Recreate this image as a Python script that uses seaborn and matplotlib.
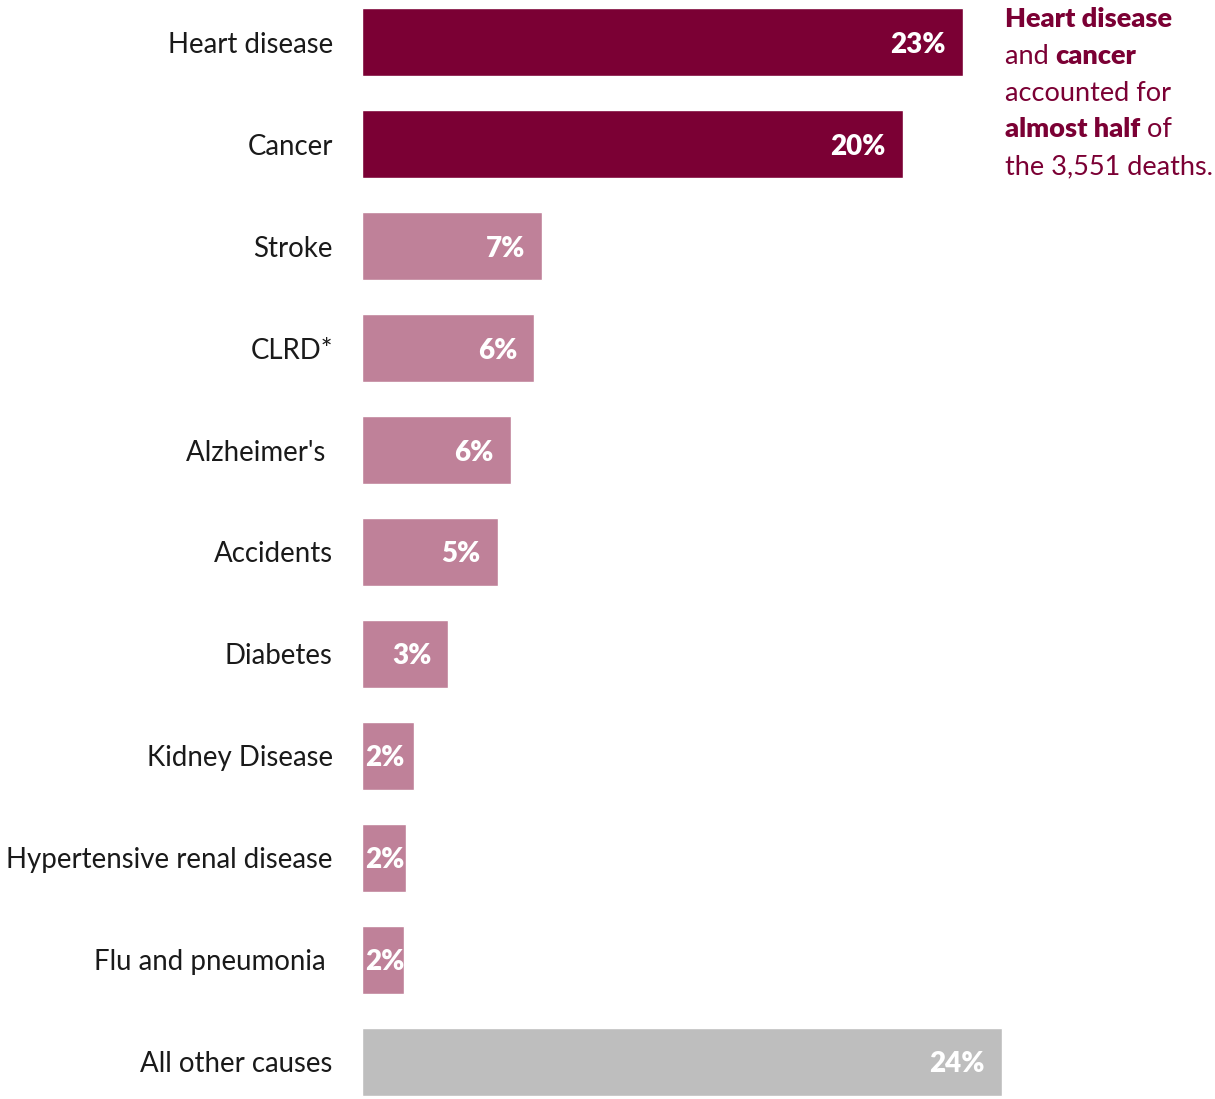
# -*- coding: UTF-8 -*-
# leading causes of death, horizontal bar chart
import matplotlib
matplotlib.use("Agg")
import matplotlib.pyplot as plt
import pandas as pd
import seaborn as sns

# data
causes = ["Heart disease", "Cancer", "Stroke", "CLRD*", "Alzheimer's ",
          "Accidents", "Diabetes", "Kidney Disease",
          "Hypertensive renal disease", "Flu and pneumonia ", "All other causes"]
shares = [23.0, 20.7, 6.9, 6.6, 5.7, 5.2, 3.3, 2.0, 1.7, 1.6, 24.5]
share_labels = ["23%", "20%", "7%", "6%", "6%", "5%", "3%", "2%", "2%", "2%", "24%"]
groups = ["top", "top", "mid", "mid", "mid", "mid", "mid", "mid", "mid", "mid", "other"]

note_lines = [
    [("Heart disease", True)],
    [("and ", False), ("cancer", True)],
    [("accounted for", False)],
    [("almost half", True), (" of", False)],
    [("the 3,551 deaths.", False)],
]

dark = "#7B0034"
pink = "#BF8199"
grey = "#BEBEBE"
group_colors = {"top": dark, "mid": pink, "other": grey}

sns.set_style("white")
plt.rcParams['font.family'] = ['Lato', 'DejaVu Sans']

W, H = 1215, 1099
fig = plt.figure(figsize=(W / 100, H / 100), dpi=100)
ax = fig.add_axes([362 / W, 0, (1041 - 362) / W, 1])

df = pd.DataFrame({"cause": causes, "share": shares, "group": groups})
sns.barplot(data=df, x="share", y="cause", hue="group", palette=group_colors,
            dodge=False, width=0.667, legend=False, ax=ax, saturation=1)

ax.set_xlim(0, 26)
ax.set_ylim(10.363, -0.412)
ax.set_xlabel("")
ax.set_ylabel("")
ax.set_xticks([])
sns.despine(ax=ax, left=True, bottom=True)
ax.tick_params(axis="y", length=0, pad=21, labelsize=19.9, labelcolor="#1a1a1a")

# value labels inside bars
renderer = fig.canvas.get_renderer()
px = 26 / (1041 - 362)  # data units per pixel
bars = sorted([p for p in ax.patches if p.get_width() > 0], key=lambda p: p.get_y())
for bar, lab in zip(bars, share_labels):
    end = bar.get_width()
    yc = bar.get_y() + bar.get_height() / 2
    t = ax.text(end - 17 * px, yc, lab, ha="right", va="center_baseline",
                color="white", fontsize=20, fontweight="heavy")
    bb = t.get_window_extent(renderer)
    if bb.width * px > end - 19 * px:
        t.set_ha("left")
        t.set_x(3 * px)
    t.set_clip_path(bar)

# side note with mixed weights
x0 = 1005
base = 27
for line in note_lines:
    x = x0
    for txt, bold in line:
        t = fig.text(x / W, 1 - base / H, txt, ha="left", va="baseline",
                     color=dark, fontsize=19.5,
                     fontweight="heavy" if bold else "normal")
        x += t.get_window_extent(renderer).width
    base += 36.8

plt.savefig("out.png", dpi=100)
